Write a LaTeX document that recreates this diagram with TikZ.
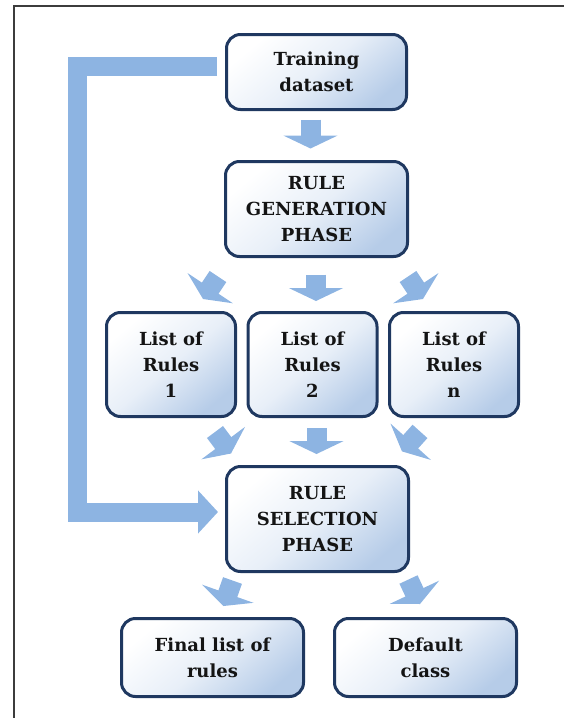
\documentclass[tikz,border=0pt]{standalone}
\usepackage{fontspec}
\setmainfont{DejaVu Serif}
\usetikzlibrary{arrows.meta,calc}
\definecolor{bordc}{RGB}{31,56,96}
\definecolor{fillc}{RGB}{182,204,232}
\definecolor{midc}{RGB}{232,239,248}
\definecolor{arrc}{RGB}{141,180,226}
\definecolor{framec}{RGB}{60,60,60}
\definecolor{txtc}{RGB}{20,20,20}
\begin{document}
\begin{tikzpicture}[x=1pt,y=-1pt,
  box/.style={draw=bordc,line width=3pt,rounded corners=14pt,
    top color=white,bottom color=fillc,middle color=midc,shading angle=40,
    align=center,font=\fontsize{18}{26}\selectfont\bfseries,text=txtc,inner sep=0pt},
  barrow/.style={draw=arrc,line width=20pt,-{Triangle[length=13pt,width=54pt]}},
  fbarrow/.style={draw=arrc,line width=19pt,miter limit=10,-{Triangle[length=20pt,width=42pt]}}
]
\path[use as bounding box] (0,0) rectangle (564,718);
\draw[framec,line width=2pt] (14,718) -- (14,6) -- (564,6);

\node[box,minimum width=180pt,minimum height=75pt] (train) at (316.5,72) {Training\\dataset};
\node[box,minimum width=182pt,minimum height=95pt] (gen) at (316.5,209) {RULE\\GENERATION\\PHASE};
\node[box,minimum width=129pt,minimum height=104pt] (l1) at (171,364.5) {List of\\Rules\\1};
\node[box,minimum width=129pt,minimum height=104pt] (l2) at (312.5,364.5) {List of\\Rules\\2};
\node[box,minimum width=129pt,minimum height=104pt] (ln) at (454,364.5) {List of\\Rules\\n};
\node[box,minimum width=182pt,minimum height=105pt] (sel) at (317.5,519) {RULE\\SELECTION\\PHASE};
\node[box,minimum width=182pt,minimum height=78pt] (fin) at (212.5,657.5) {Final list of\\rules};
\node[box,minimum width=182pt,minimum height=78pt] (def) at (425.5,657.5) {Default\\class};

\draw[barrow] ($(train.south)+(-6,8.5)$) -- ($(gen.north)+(-6,-11.5)$);
\draw[barrow] ($(gen.south)+(-98.5,18.5)$) -- ($(l1.north)+(32,-12)$);
\draw[barrow] ($(gen.south)+(-0.5,16.5)$) -- ($(l2.north)+(3.5,-10)$);
\draw[barrow] ($(gen.south)+(91.5,18.5)$) -- ($(ln.north)+(-31,-12)$);
\draw[barrow] ($(l1.south)+(44,14)$) -- ($(sel.north)+(-86.5,-11.5)$);
\draw[barrow] ($(l2.south)+(4,10)$) -- ($(sel.north)+(-1,-11)$);
\draw[barrow] ($(ln.south)+(-34,13.4)$) -- ($(sel.north)+(84.5,-13.6)$);
\draw[barrow] ($(sel.south)+(-85,7.5)$) -- ($(fin.north)+(11,-11)$);
\draw[barrow] ($(sel.south)+(91,6.5)$) -- ($(def.north)+(-5.5,-13)$);

\coordinate (fbcorner) at (77.5,512);
\draw[fbarrow] ($(train.west)+(-8,-5.5)$) -| (fbcorner) -- ($(sel.west)+(-7,-7)$);
\end{tikzpicture}
\end{document}
